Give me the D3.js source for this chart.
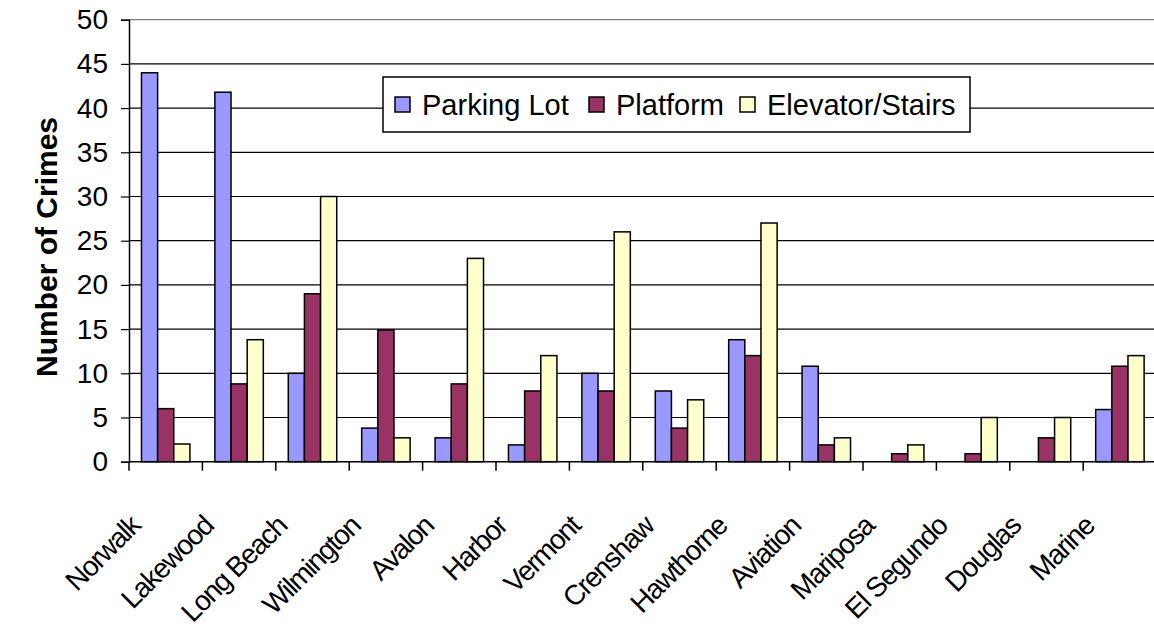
<!DOCTYPE html>
<html>
<head>
<meta charset="utf-8">
<script src="https://cdn.jsdelivr.net/npm/d3@7"></script>
<style>
  body { margin: 0; background: #fff; }
  svg { font-family: "Liberation Sans", Arial, sans-serif; }
</style>
</head>
<body>
<svg id="chart"></svg>
<script>
const stations = ["Norwalk","Lakewood","Long Beach","Wilmington","Avalon","Harbor","Vermont","Crenshaw","Hawthorne","Aviation","Mariposa","El Segundo","Douglas","Marine"]
const seriesNames = ["Parking Lot","Platform","Elevator/Stairs"]
const parkingLot = [44, 41.8, 10, 3.8, 2.7, 1.9, 10, 8, 13.8, 10.8, 0, 0, 0, 5.9]
const platform   = [6, 8.8, 19, 14.9, 8.8, 8, 8, 3.8, 12, 1.9, 0.9, 0.9, 2.7, 10.8]
const elevator   = [2, 13.8, 30, 2.7, 23, 12, 26, 7, 27, 2.7, 1.9, 5, 5, 12]
const yTicks = [0,5,10,15,20,25,30,35,40,45,50]
const colors = ["#9999FF","#993366","#FFFFCC"]

const W = 1154, H = 628
const margin = {top: 19.7, left: 129}
const plotW = 14 * 73.4, plotH = 442

const svg = d3.select("#chart").attr("width", W).attr("height", H)
svg.append("rect").attr("width", W).attr("height", H).attr("fill", "#fff")

const g = svg.append("g").attr("transform", "translate(" + margin.left + "," + margin.top + ")")

const x = d3.scaleBand().domain(stations).range([0, plotW]).padding(0)
const inner = d3.scaleBand().domain(seriesNames)
    .range([x.bandwidth() * 0.17, x.bandwidth() * 0.83]).padding(0)
const y = d3.scaleLinear().domain([0, 50]).range([plotH, 0])

// gridlines
g.append("g").selectAll("line")
    .data(yTicks.filter(d => d > 0))
    .enter().append("line")
    .attr("x1", 0).attr("x2", plotW)
    .attr("y1", d => y(d)).attr("y2", d => y(d))
    .attr("stroke", d => d === 50 ? "#808080" : "#000")
    .attr("stroke-width", 1.2)

// bars
const rows = stations.map((s, i) => ({station: s, vals: [parkingLot[i], platform[i], elevator[i]]}))
const groups = g.append("g").selectAll("g")
    .data(rows).enter().append("g")
    .attr("transform", d => "translate(" + x(d.station) + ",0)")
groups.selectAll("rect")
    .data(d => d.vals.map((v, k) => ({name: seriesNames[k], v: v, k: k})).filter(e => e.v > 0))
    .enter().append("rect")
    .attr("x", d => inner(d.name))
    .attr("width", inner.bandwidth())
    .attr("y", d => y(d.v))
    .attr("height", d => y(0) - y(d.v))
    .attr("fill", d => colors[d.k])
    .attr("stroke", "#000")
    .attr("stroke-width", 1.5)

// y axis
const yAxis = g.append("g")
    .call(d3.axisLeft(y).tickValues(yTicks).tickSize(8).tickPadding(13).tickFormat(d3.format("d")))
yAxis.select(".domain").attr("stroke", "#000").attr("stroke-width", 1.5)
yAxis.selectAll(".tick line").attr("stroke", "#000").attr("stroke-width", 1.2)
yAxis.selectAll("text").attr("font-size", "28px").attr("fill", "#000")
    .attr("font-family", "'Liberation Sans', Arial, sans-serif")

// x axis
const xAxis = g.append("g").attr("transform", "translate(0," + plotH + ")")
xAxis.append("line").attr("x1", 0).attr("x2", plotW).attr("stroke", "#000").attr("stroke-width", 1.5)
xAxis.selectAll("line.tk")
    .data(stations).enter().append("line").attr("class", "tk")
    .attr("x1", d => x(d)).attr("x2", d => x(d))
    .attr("y1", 0).attr("y2", 9)
    .attr("stroke", "#000").attr("stroke-width", 1.5)
xAxis.selectAll("text")
    .data(stations).enter().append("text")
    .attr("transform", d => "translate(" + (x(d) + x.bandwidth() / 2 - 24) + ",66) rotate(-45)")
    .attr("text-anchor", "end")
    .attr("font-size", "28px")
    .attr("letter-spacing", "-1.4px")
    .text(d => d)

// y title
svg.append("text")
    .attr("transform", "translate(57,247) rotate(-90)")
    .attr("text-anchor", "middle")
    .attr("font-size", "30px")
    .attr("font-weight", "bold")
    .text("Number of Crimes")

// legend
const legend = svg.append("g").attr("transform", "translate(383,77)")
legend.append("rect").attr("width", 587).attr("height", 55)
    .attr("fill", "#fff").attr("stroke", "#000").attr("stroke-width", 1.5)
const legX = [12, 206, 357]
const items = legend.selectAll("g.item").data(seriesNames).enter().append("g")
    .attr("transform", (d, i) => "translate(" + legX[i] + ",20)")
items.append("rect").attr("width", 15).attr("height", 15)
    .attr("fill", (d, i) => colors[i]).attr("stroke", "#000").attr("stroke-width", 1.5)
items.append("text").attr("x", 27).attr("y", 18).attr("font-size", "29px").text(d => d)
</script>
</body>
</html>
